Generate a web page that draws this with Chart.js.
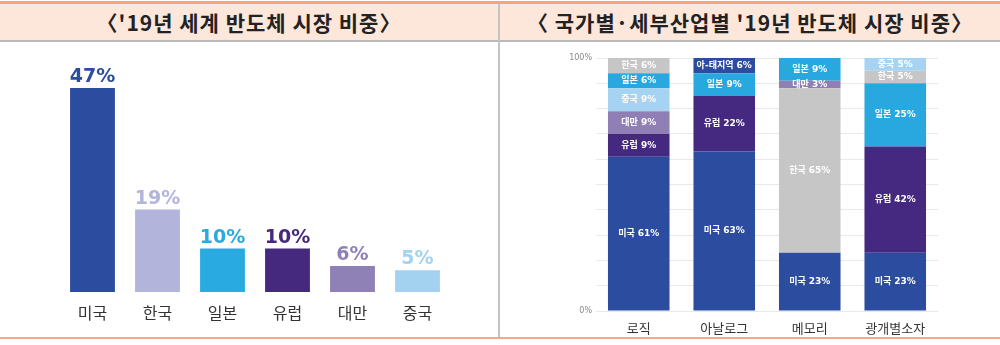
<!DOCTYPE html>
<html>
<head>
<meta charset="utf-8">
<script src="https://cdn.jsdelivr.net/npm/chart.js@4.4.1/dist/chart.umd.min.js"></script>
<style>
  html, body { margin: 0; padding: 0; background: #fff; }
  #wrap { position: relative; width: 1000px; height: 345px; overflow: hidden; font-family: 'Noto Sans CJK KR', sans-serif; }
  .line-top { position: absolute; left: 0; top: 1px; width: 1000px; height: 3px; background: #f3a47c; }
  .band { position: absolute; left: 0; top: 4px; width: 1000px; height: 36px; background: #fde6da; }
  .line-gray { position: absolute; left: 0; top: 40px; width: 1000px; height: 2px; background: #b9b9b9; }
  .divider { position: absolute; left: 498px; top: 4px; width: 2px; height: 334px; background: #c4c4c4; }
  .line-bottom { position: absolute; left: 0; top: 337px; width: 1000px; height: 2px; background: #f6a883; }
  .title { position: absolute; top: 4px; height: 36px; line-height: 36px; text-align: center; font-size: 21px; font-weight: bold; color: #222; letter-spacing: 1px; white-space: nowrap; }
  #t1 { left: 0; width: 498px; }
  #t2 { left: 500px; width: 500px; }
  .box { position: absolute; top: 42px; height: 295px; }
  #b1 { left: 0; width: 498px; }
  #b2 { left: 500px; width: 500px; }
</style>
</head>
<body>
<div id="wrap">
  <div class="band"></div>
  <div class="line-top"></div>
  <div class="line-gray"></div>
  <div class="divider"></div>
  <div class="line-bottom"></div>
  <div class="title" id="t1">〈'19년 세계 반도체 시장 비중〉</div>
  <div class="title" id="t2">〈 국가별·세부산업별 '19년 반도체 시장 비중〉</div>
  <div class="box" id="b1"><canvas id="worldChart"></canvas></div>
  <div class="box" id="b2"><canvas id="sectorChart"></canvas></div>
</div>
<script>
// left chart: world market share by country
var worldCountries = ['미국', '한국', '일본', '유럽', '대만', '중국'];
var worldShares = [47, 19, 10, 10, 6, 5];

// right chart: share by sector, stacked bottom -> top
var sectors = ['로직', '아날로그', '메모리', '광개별소자'];
var layerRegions = [
  ['미국', '미국', '미국', '미국'],
  ['유럽', '유럽', '한국', '유럽'],
  ['대만', '일본', '대만', '일본'],
  ['중국', '아-태지역', '일본', '한국'],
  ['일본', null, null, '중국'],
  ['한국', null, null, null]
];
var layerShares = [
  [61, 63, 23, 23],
  [9, 22, 65, 42],
  [9, 9, 3, 25],
  [9, 6, 9, 5],
  [6, 0, 0, 5],
  [6, 0, 0, 0]
];
var shareTicks = [0, 100];

var regionColors = {
  '미국': '#2c4c9f',
  '한국': '#c6c6c6',
  '일본': '#29a8e0',
  '유럽': '#45287f',
  '대만': '#8f7fb5',
  '중국': '#a5d3f1',
  '아-태지역': '#2c4c9f'
};
var worldColors = ['#2c4c9f', '#b2b4dc', '#29abe2', '#45297f', '#8f80b6', '#a2d2f0'];

var KR = "'Noto Sans CJK KR', sans-serif";
var NUM = "'DejaVu Sans', 'Noto Sans CJK KR', sans-serif";

// value labels above the left bars
var topLabels = {
  id: 'topLabels',
  afterDatasetsDraw: function(chart) {
    var ctx = chart.ctx;
    var meta = chart.getDatasetMeta(0);
    ctx.save();
    ctx.font = 'bold 19px ' + NUM;
    ctx.textAlign = 'center';
    ctx.textBaseline = 'alphabetic';
    meta.data.forEach(function(bar, i) {
      ctx.fillStyle = worldColors[i];
      ctx.fillText(worldShares[i] + '%', bar.x, bar.y - 6);
    });
    ctx.restore();
  }
};

// region labels inside the stacked segments
var segLabels = {
  id: 'segLabels',
  afterDatasetsDraw: function(chart) {
    var ctx = chart.ctx;
    ctx.save();
    ctx.font = 'bold 9px ' + NUM;
    ctx.textAlign = 'center';
    ctx.textBaseline = 'middle';
    ctx.fillStyle = '#ffffff';
    chart.data.datasets.forEach(function(ds, d) {
      var meta = chart.getDatasetMeta(d);
      meta.data.forEach(function(bar, i) {
        var v = layerShares[d][i];
        if (!v) return;
        ctx.fillText(layerRegions[d][i] + ' ' + v + '%', bar.x, (bar.y + bar.base) / 2);
      });
    });
    ctx.restore();
  }
};

function createWorldChart() {
  var ctx = document.getElementById('worldChart').getContext('2d');
  new Chart(ctx, {
    type: 'bar',
    data: {
      labels: worldCountries,
      datasets: [{
        data: worldShares,
        backgroundColor: worldColors,
        borderWidth: 0,
        barPercentage: 0.69,
        categoryPercentage: 1
      }]
    },
    options: {
      responsive: true,
      maintainAspectRatio: false,
      animation: false,
      layout: { padding: { left: 60, right: 48, top: 33, bottom: 0 } },
      plugins: { legend: { display: false }, tooltip: { enabled: false } },
      scales: {
        x: {
          grid: { display: false, drawTicks: false },
          border: { display: false },
          ticks: { color: '#333', font: { family: KR, size: 16 }, padding: 11 },
          afterFit: function(s) { s.height = 45; }
        },
        y: {
          display: false,
          min: 0,
          max: 50
        }
      }
    },
    plugins: [topLabels]
  });
}

function createSectorChart() {
  var ctx = document.getElementById('sectorChart').getContext('2d');
  var datasets = layerShares.map(function(vals, d) {
    return {
      data: vals,
      backgroundColor: layerRegions[d].map(function(r) { return r ? regionColors[r] : 'rgba(0,0,0,0)'; }),
      borderWidth: 0,
      barPercentage: 0.72,
      categoryPercentage: 1
    };
  });
  new Chart(ctx, {
    type: 'bar',
    data: { labels: sectors, datasets: datasets },
    options: {
      responsive: true,
      maintainAspectRatio: false,
      animation: false,
      layout: { padding: { left: 0, right: 62, top: 16, bottom: 0 } },
      plugins: { legend: { display: false }, tooltip: { enabled: false } },
      scales: {
        x: {
          stacked: true,
          grid: { display: false, drawTicks: false },
          border: { display: false },
          ticks: { color: '#333', font: { family: KR, size: 13 }, padding: 9 },
          afterFit: function(s) { s.height = 26; }
        },
        y: {
          stacked: true,
          min: 0,
          max: 100,
          grid: { color: '#e9e9e9', drawTicks: false },
          border: { display: false },
          ticks: {
            stepSize: 10,
            color: '#888',
            font: { family: NUM, size: 8 },
            padding: 4,
            autoSkip: false,
            callback: function(v) { return shareTicks.indexOf(v) >= 0 ? v + '%' : ''; }
          },
          afterFit: function(s) { s.width = 96; }
        }
      }
    },
    plugins: [segLabels]
  });
}

createWorldChart();
createSectorChart();
</script>
</body>
</html>
